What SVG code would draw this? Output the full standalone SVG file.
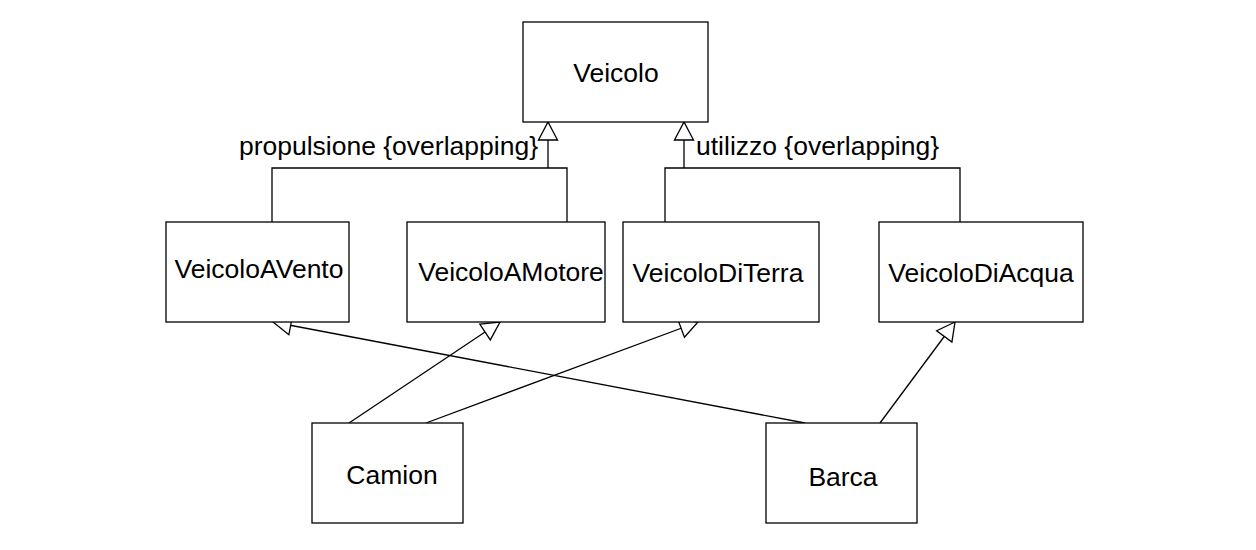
<svg xmlns="http://www.w3.org/2000/svg" width="1256" height="550" viewBox="0 0 1256 550">
<style>
.box{fill:#fff;stroke:#000;stroke-width:1.3}
.t{font-family:"Liberation Sans",Arial,sans-serif;font-size:26.5px;fill:#000;text-anchor:middle}
.lbl{font-family:"Liberation Sans",Arial,sans-serif;font-size:26.5px;fill:#000}
.c{fill:none;stroke:#000;stroke-width:1.3}
</style>
<defs>
<marker id="gen" markerUnits="userSpaceOnUse" markerWidth="22" markerHeight="22" refX="18" refY="10" orient="auto" overflow="visible">
<path d="M0,0.5 L18,10 L0,19.5 Z" fill="#fff" stroke="#000" stroke-width="1.3"/>
</marker>
</defs>
<rect width="1256" height="550" fill="#fff"/>
<g id="connectors">
<path class="c" d="M272,222 V168 H567 V222"/>
<path class="c" d="M548,168 V122" marker-end="url(#gen)"/>
<path class="c" d="M665,222 V168 H960 V222"/>
<path class="c" d="M684,168 V122" marker-end="url(#gen)"/>
<path class="c" d="M805,423 L273,322" marker-end="url(#gen)"/>
<path class="c" d="M349,423 L500,322" marker-end="url(#gen)"/>
<path class="c" d="M426,423 L698,322" marker-end="url(#gen)"/>
<path class="c" d="M880,423 L955,322" marker-end="url(#gen)"/>
<text class="lbl" x="538" y="155" text-anchor="end">propulsione {overlapping}</text>
<text class="lbl" x="696" y="155">utilizzo {overlapping}</text>
</g>
<g id="Veicolo"><rect class="box" x="523" y="22" width="185" height="100"/><text class="t" x="616" y="82">Veicolo</text></g>
<g id="VeicoloAVento"><rect class="box" x="166" y="222" width="183" height="100"/><text class="t" x="259" y="278">VeicoloAVento</text></g>
<g id="VeicoloAMotore"><rect class="box" x="407" y="222" width="198" height="100"/><text class="t" x="511" y="281">VeicoloAMotore</text></g>
<g id="VeicoloDiTerra"><rect class="box" x="623" y="222" width="196" height="100"/><text class="t" x="718" y="282">VeicoloDiTerra</text></g>
<g id="VeicoloDiAcqua"><rect class="box" x="879" y="222" width="204" height="100"/><text class="t" x="981" y="282">VeicoloDiAcqua</text></g>
<g id="Camion"><rect class="box" x="312" y="423" width="151" height="100"/><text class="t" x="392" y="484">Camion</text></g>
<g id="Barca"><rect class="box" x="766" y="423" width="151" height="100"/><text class="t" x="843" y="486">Barca</text></g>
</svg>
